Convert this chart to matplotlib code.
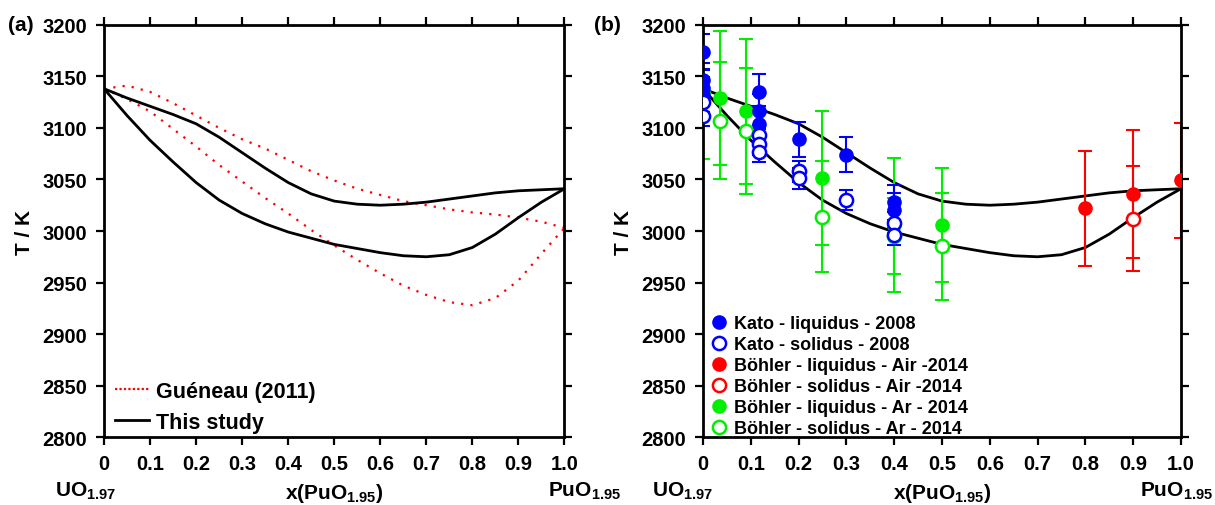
import matplotlib
matplotlib.use("Agg")
import matplotlib.pyplot as plt
from matplotlib.lines import Line2D

plt.rcParams['font.family'] = ['Liberation Sans', 'DejaVu Sans']
plt.rcParams['font.weight'] = 'bold'
plt.rcParams['mathtext.fontset'] = 'custom'
plt.rcParams['mathtext.rm'] = 'Liberation Sans:bold'
plt.rcParams['mathtext.bf'] = 'Liberation Sans:bold'
plt.rcParams['mathtext.default'] = 'bf'

# ====================== DATA ======================
x_curve = [0.0, 0.05, 0.1, 0.15, 0.2, 0.25, 0.3, 0.35, 0.4, 0.45, 0.5,
           0.55, 0.6, 0.65, 0.7, 0.75, 0.8, 0.85, 0.9, 0.95, 1.0]

# this study
liq_this = [3138, 3129, 3121, 3113, 3104, 3091, 3076, 3061, 3047, 3036, 3029,
            3026, 3025, 3026, 3028, 3031, 3034, 3037, 3039, 3040, 3041]
sol_this = [3138, 3112, 3088, 3067, 3047, 3030, 3017, 3007, 2999, 2993, 2987,
            2983, 2979, 2976, 2975, 2977, 2984, 2997, 3013, 3028, 3041]

# Gueneau (2011)
liq_gue = [3138, 3141, 3135, 3124, 3112, 3100, 3089, 3080, 3069, 3058, 3049,
           3041, 3035, 3029, 3025, 3021, 3018, 3016, 3013, 3009, 3003]
sol_gue = [3138, 3128, 3116, 3099, 3082, 3064, 3048, 3032, 3017, 3001, 2986,
           2972, 2959, 2947, 2938, 2931, 2928, 2935, 2952, 2978, 3003]

# Kato 2008
kato_liq_x = [0.0, 0.0, 0.0, 0.0, 0.117, 0.117, 0.117, 0.2, 0.3, 0.4, 0.4]
kato_liq_T = [3174, 3146, 3139, 3132, 3135, 3116, 3104, 3089, 3074, 3028, 3020]
kato_liq_err = 17
kato_sol_x = [0.0, 0.0, 0.117, 0.117, 0.117, 0.2, 0.2, 0.3, 0.4, 0.4]
kato_sol_T = [3125, 3112, 3093, 3084, 3077, 3058, 3051, 3030, 3008, 2996]
kato_sol_err = 10

# Bohler 2014, air
air_liq_x = [0.8, 0.9, 1.0]
air_liq_T = [3022, 3036, 3049]
air_liq_err = [56, 62, 56]
air_sol_x = [0.9]
air_sol_T = [3012]
air_sol_err = [51]

# Bohler 2014, Ar
ar_liq_x = [0.0, 0.035, 0.09, 0.25, 0.4, 0.5]
ar_liq_T = [3135, 3129, 3116, 3051, 3006, 3006]
ar_liq_err = [65, 65, 70, 65, 65, 55]
ar_sol_x = [0.035, 0.09, 0.25, 0.4, 0.5]
ar_sol_T = [3107, 3097, 3014, 2995, 2985]
ar_sol_err = [57, 61, 54, 37, 52]

xticks = [0, 0.1, 0.2, 0.3, 0.4, 0.5, 0.6, 0.7, 0.8, 0.9, 1.0]
xtick_labels = ['0', '0.1', '0.2', '0.3', '0.4', '0.5', '0.6', '0.7', '0.8', '0.9', '1.0']
yticks = [2800, 2850, 2900, 2950, 3000, 3050, 3100, 3150, 3200]

BLUE = '#0000ff'
RED = '#ff0000'
GREEN = '#00ee00'


def style_axes(ax, tag):
    ax.set_xlim(0, 1)
    ax.set_ylim(2800, 3200)
    ax.set_xticks(xticks)
    ax.set_xticklabels(xtick_labels)
    ax.set_yticks(yticks)
    ax.tick_params(direction='out', top=True, right=True, length=6, width=1.6,
                   labelsize=14.5, pad=6)
    for s in ax.spines.values():
        s.set_linewidth(2)
    ax.set_ylabel('T / K', fontsize=15, fontweight='bold', labelpad=6)
    ax.text(0.5, -0.135, 'x(PuO$_{1.95}$)', transform=ax.transAxes,
            ha='center', va='center', fontsize=15)
    ax.text(-0.107, -0.128, 'UO$_{1.97}$', transform=ax.transAxes,
            ha='left', va='center', fontsize=15)
    ax.text(0.965 if tag == '(a)' else 0.914, -0.128, 'PuO$_{1.95}$',
            transform=ax.transAxes, ha='left', va='center', fontsize=15)
    ax.text(-0.18 if tag == '(a)' else -0.199, 1.0, tag, transform=ax.transAxes,
            ha='center', va='center', fontsize=15)


fig = plt.figure(figsize=(12.15, 5.06), dpi=100)
ax1 = fig.add_axes([0.0856, 0.134, 0.379, 0.815])
ax2 = fig.add_axes([0.5786, 0.134, 0.3934, 0.815])

# ====================== (a) ======================
ax1.plot(x_curve, liq_gue, color=RED, lw=1.6, ls=(0, (1, 3.2)))
ax1.plot(x_curve, sol_gue, color=RED, lw=1.6, ls=(0, (1, 3.2)))
ax1.plot(x_curve, liq_this, color='black', lw=2)
ax1.plot(x_curve, sol_this, color='black', lw=2)
handles = [Line2D([], [], color=RED, lw=1.6, ls=(0, (1, 1))),
           Line2D([], [], color='black', lw=2)]
ax1.legend(handles, ['Guéneau (2011)', 'This study'], loc='lower left',
           frameon=False, fontsize=15.5, handlelength=1.6, handletextpad=0.3,
           labelspacing=0.45, borderaxespad=0.2, bbox_to_anchor=(-0.005, -0.02))
style_axes(ax1, '(a)')

# ====================== (b) ======================
ax2.plot(x_curve, liq_this, color='black', lw=2, zorder=1)
ax2.plot(x_curve, sol_this, color='black', lw=2, zorder=1)

eb = dict(fmt='none', elinewidth=1.5, capsize=5, capthick=1.5, zorder=2)
ax2.errorbar(air_liq_x, air_liq_T, yerr=air_liq_err, ecolor=RED, **eb)
ax2.errorbar(air_sol_x, air_sol_T, yerr=air_sol_err, ecolor=RED, **eb)
ax2.errorbar(ar_liq_x, ar_liq_T, yerr=ar_liq_err, ecolor=GREEN, **eb)
ax2.errorbar(ar_sol_x, ar_sol_T, yerr=ar_sol_err, ecolor=GREEN, **eb)
ax2.errorbar(kato_liq_x, kato_liq_T, yerr=kato_liq_err, ecolor=BLUE, **eb)
ax2.errorbar(kato_sol_x, kato_sol_T, yerr=kato_sol_err, ecolor=BLUE, **eb)

ms = 9.5
ax2.plot(air_liq_x, air_liq_T, 'o', color=RED, ms=ms, zorder=3)
ax2.plot(air_sol_x, air_sol_T, 'o', mfc='white', mec=RED, mew=1.8, ms=ms, zorder=3)
ax2.plot(ar_liq_x, ar_liq_T, 'o', color=GREEN, ms=ms, zorder=3)
ax2.plot(ar_sol_x, ar_sol_T, 'o', mfc='white', mec=GREEN, mew=1.8, ms=ms, zorder=3)
ax2.plot(kato_liq_x, kato_liq_T, 'o', color=BLUE, ms=ms, zorder=4)
ax2.plot(kato_sol_x, kato_sol_T, 'o', mfc='white', mec=BLUE, mew=1.8, ms=ms, zorder=4)

leg_handles = [
    Line2D([], [], ls='none', marker='o', color=BLUE, ms=ms),
    Line2D([], [], ls='none', marker='o', mfc='white', mec=BLUE, mew=1.8, ms=ms),
    Line2D([], [], ls='none', marker='o', color=RED, ms=ms),
    Line2D([], [], ls='none', marker='o', mfc='white', mec=RED, mew=1.8, ms=ms),
    Line2D([], [], ls='none', marker='o', color=GREEN, ms=ms),
    Line2D([], [], ls='none', marker='o', mfc='white', mec=GREEN, mew=1.8, ms=ms),
]
leg_labels = ['Kato - liquidus - 2008', 'Kato - solidus - 2008',
              'Böhler - liquidus - Air -2014', 'Böhler - solidus - Air -2014',
              'Böhler - liquidus - Ar - 2014', 'Böhler - solidus - Ar - 2014']
ax2.legend(leg_handles, leg_labels, loc='lower left', frameon=False,
           fontsize=13, handlelength=0.8, handletextpad=0.4, labelspacing=0.22,
           borderaxespad=0.1, bbox_to_anchor=(0.0, -0.021))
style_axes(ax2, '(b)')

fig.savefig('out.png', dpi=100)
